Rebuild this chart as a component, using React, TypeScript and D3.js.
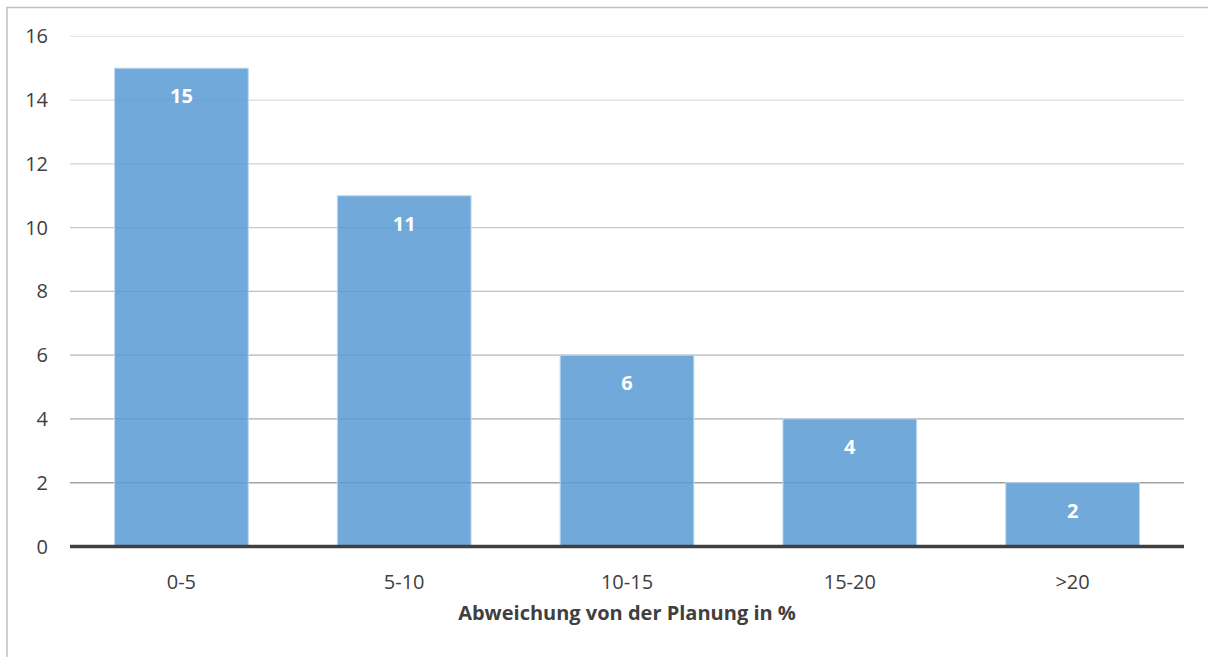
import React from "react";
import * as d3 from "d3";

const categories = ["0-5", "5-10", "10-15", "15-20", ">20"];
const values = [15, 11, 6, 4, 2];
const yTicks = [0, 2, 4, 6, 8, 10, 12, 14, 16];
const xTitle = "Abweichung von der Planung in %";

const W = 1208;
const H = 657;
const left = 70;
const right = 1184;
const top = 36.3;
const bottom = 546.5;
const font = "'Open Sans', 'Noto Sans', sans-serif";

export default function App() {
  const x = d3.scaleBand<string>().domain(categories).range([left, right]).paddingInner(0.4).paddingOuter(0.2);
  const y = d3.scaleLinear().domain([0, 16]).range([bottom, top]);
  const gridColor = d3.interpolateRgb("#e4e4e4", "#a3a3a3");

  return (
    <svg width={W} height={H} style={{ position: "absolute", left: 0, top: 0, background: "#fff" }}>
      <rect x={7} y={7.5} width={1215} height={670} fill="#fff" stroke="#c0c0c0" strokeWidth={1.5} />
      {yTicks.filter((t) => t > 0).map((t) => (
        <line key={t} x1={left} x2={right} y1={y(t)} y2={y(t)} stroke={gridColor((16 - t) / 14)} strokeWidth={1.3} />
      ))}
      {yTicks.map((t) => (
        <text key={"l" + t} x={48} y={y(t)} dy="0.35em" textAnchor="end" fontFamily={font} fontSize={20} fill="#404040">
          {t}
        </text>
      ))}
      {categories.map((c, i) => (
        <g key={c}>
          <rect
            x={x(c)}
            y={y(values[i])}
            width={x.bandwidth()}
            height={y(0) - y(values[i])}
            fill="#5B9BD5"
            fillOpacity={0.86}
            stroke="#BDD7EE"
            strokeWidth={1}
          />
          <text
            x={(x(c) as number) + x.bandwidth() / 2}
            y={y(values[i]) + 28}
            dy="0.35em"
            textAnchor="middle"
            fontFamily={font}
            fontSize={20}
            fontWeight="bold"
            fill="#fff"
          >
            {values[i]}
          </text>
          <text
            x={(x(c) as number) + x.bandwidth() / 2}
            y={582}
            dy="0.35em"
            textAnchor="middle"
            fontFamily={font}
            fontSize={20}
            fill="#404040"
          >
            {c}
          </text>
        </g>
      ))}
      <line x1={left} x2={right} y1={y(0)} y2={y(0)} stroke="#404040" strokeWidth={3.5} />
      <text x={(left + right) / 2 + 0} y={613} dy="0.35em" textAnchor="middle" fontFamily={font} fontSize={20} fontWeight="bold" fill="#404040">
        {xTitle}
      </text>
    </svg>
  );
}
